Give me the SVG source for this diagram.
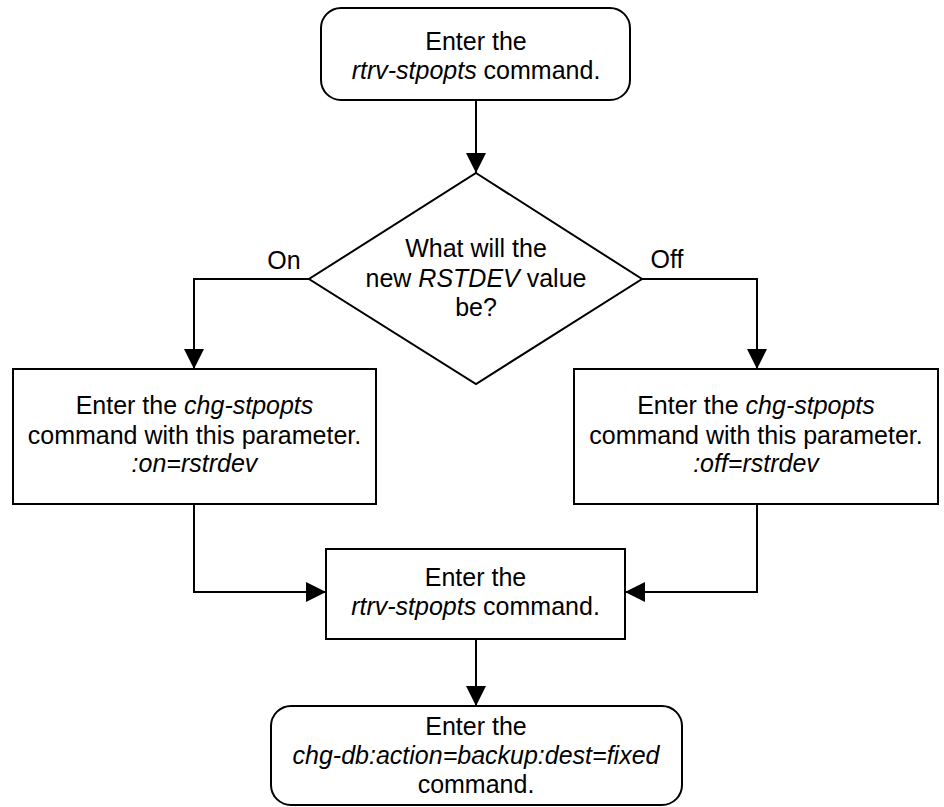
<svg xmlns="http://www.w3.org/2000/svg" width="944" height="807" viewBox="0 0 944 807">
<style>
.n{fill:#fff;stroke:#000;stroke-width:2}
.c{fill:none;stroke:#000;stroke-width:2}
text{font-family:"Liberation Sans",Arial,sans-serif;font-size:25px;fill:#000}
.m{text-anchor:middle}
.i{font-style:italic}
</style>
<defs>
<marker id="ah" markerUnits="userSpaceOnUse" markerWidth="20" markerHeight="20" viewBox="0 0 20 20" refX="20" refY="10" orient="auto">
<path d="M0,0 L20,10 L0,20 z" fill="#000"/>
</marker>
</defs>
<rect width="944" height="807" fill="#fff"/>
<g id="connectors">
<path class="c" d="M476,100 L476,173" marker-end="url(#ah)"/>
<path class="c" d="M309,279 L194,279 L194,369" marker-end="url(#ah)"/>
<path class="c" d="M642,279 L757,279 L757,369" marker-end="url(#ah)"/>
<path class="c" d="M194,504 L194,592 L326,592" marker-end="url(#ah)"/>
<path class="c" d="M757,504 L757,592 L625,592" marker-end="url(#ah)"/>
<path class="c" d="M476,639 L476,706" marker-end="url(#ah)"/>
<text x="284" y="269" class="m">On</text>
<text x="667" y="268" class="m">Off</text>
</g>
<g id="start">
<rect class="n" x="321" y="8" width="309" height="92" rx="20" ry="20"/>
<text x="476" y="50" class="m">Enter the</text>
<text x="476" y="79" class="m"><tspan class="i">rtrv-stpopts</tspan> command.</text>
</g>
<g id="decision">
<polygon class="n" points="476,173 642,279 476,384 309,279"/>
<text x="476" y="257" class="m">What will the</text>
<text x="476" y="287" class="m">new <tspan class="i">RSTDEV</tspan> value</text>
<text x="476" y="316" class="m">be?</text>
</g>
<g id="on-box">
<rect class="n" x="13" y="369" width="363" height="135"/>
<text x="194.5" y="414" class="m">Enter the <tspan class="i">chg-stpopts</tspan></text>
<text x="194.5" y="444" class="m">command with this parameter.</text>
<text x="194.5" y="472" class="m i">:on=rstrdev</text>
</g>
<g id="off-box">
<rect class="n" x="574" y="369" width="364" height="135"/>
<text x="756" y="414" class="m">Enter the <tspan class="i">chg-stpopts</tspan></text>
<text x="756" y="444" class="m">command with this parameter.</text>
<text x="756" y="472" class="m i">:off=rstrdev</text>
</g>
<g id="rtrv">
<rect class="n" x="326" y="549" width="299" height="90"/>
<text x="475.5" y="586" class="m">Enter the</text>
<text x="475.5" y="615" class="m"><tspan class="i">rtrv-stpopts</tspan> command.</text>
</g>
<g id="end">
<rect class="n" x="271" y="706" width="411" height="99" rx="20" ry="20"/>
<text x="476" y="735" class="m">Enter the</text>
<text x="476" y="764" class="m i">chg-db:action=backup:dest=fixed</text>
<text x="476" y="793" class="m">command.</text>
</g>
</svg>
